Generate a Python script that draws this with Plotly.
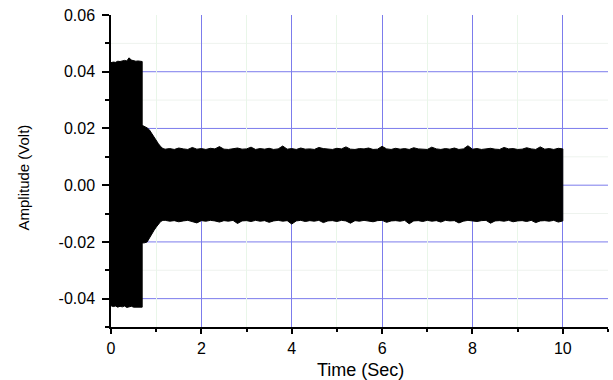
import plotly.graph_objects as go

# Envelope of the recorded signal: upper and lower amplitude bounds (Volt) over time (s)
time_s = [0.0, 0.05, 0.1, 0.15, 0.2, 0.25, 0.3, 0.35, 0.4, 0.45, 0.5, 0.55, 0.6, 0.65,
          0.69, 0.69, 0.75, 0.8, 0.85, 0.9, 0.95, 1.0, 1.05, 1.1, 1.15,
          1.2, 1.3, 1.4, 1.5, 1.6, 1.7, 1.8, 1.9, 2.0, 2.1,
          2.2, 2.3, 2.4, 2.5, 2.6, 2.7, 2.8, 2.9, 3.0, 3.1,
          3.2, 3.3, 3.4, 3.5, 3.6, 3.7, 3.8, 3.9, 4.0, 4.1,
          4.2, 4.3, 4.4, 4.5, 4.6, 4.7, 4.8, 4.9, 5.0, 5.1,
          5.2, 5.3, 5.4, 5.5, 5.6, 5.7, 5.8, 5.9, 6.0, 6.1,
          6.2, 6.3, 6.4, 6.5, 6.6, 6.7, 6.8, 6.9, 7.0, 7.1,
          7.2, 7.3, 7.4, 7.5, 7.6, 7.7, 7.8, 7.9, 8.0, 8.1,
          8.2, 8.3, 8.4, 8.5, 8.6, 8.7, 8.8, 8.9, 9.0, 9.1,
          9.2, 9.3, 9.4, 9.5, 9.6, 9.7, 9.8, 9.9, 10.0]

upper_v = [0.0432, 0.0434, 0.0433, 0.0437, 0.0436, 0.0439, 0.0440, 0.0438, 0.0449, 0.0441,
           0.0439, 0.0437, 0.0438, 0.0436, 0.0436, 0.0211, 0.0207, 0.0202, 0.0195, 0.0182,
           0.0168, 0.0157, 0.0146, 0.0136, 0.0129,
           0.0127, 0.0129, 0.0126, 0.0131, 0.0128, 0.0126, 0.0133, 0.0127, 0.0129, 0.0126,
           0.0130, 0.0128, 0.0136, 0.0127, 0.0126, 0.0129, 0.0131, 0.0127, 0.0128, 0.0134,
           0.0126, 0.0129, 0.0127, 0.0130, 0.0126, 0.0128, 0.0138, 0.0127, 0.0129, 0.0126,
           0.0131, 0.0127, 0.0128, 0.0126, 0.0133, 0.0129, 0.0127, 0.0126, 0.0130, 0.0128,
           0.0135, 0.0127, 0.0126, 0.0129, 0.0128, 0.0131, 0.0126, 0.0127, 0.0137, 0.0128,
           0.0126, 0.0130, 0.0127, 0.0129, 0.0126, 0.0132, 0.0128, 0.0127, 0.0126, 0.0134,
           0.0128, 0.0126, 0.0129, 0.0127, 0.0131, 0.0126, 0.0128, 0.0139, 0.0127, 0.0129,
           0.0126, 0.0128, 0.0130, 0.0127, 0.0126, 0.0133, 0.0128, 0.0129, 0.0126, 0.0127,
           0.0132, 0.0128, 0.0126, 0.0135, 0.0127, 0.0129, 0.0126, 0.0130, 0.0128]

lower_v = [-0.0425, -0.0428, -0.0426, -0.0430, -0.0427, -0.0429, -0.0426, -0.0431, -0.0428, -0.0427,
           -0.0430, -0.0428, -0.0429, -0.0430, -0.0430, -0.0204, -0.0203, -0.0200, -0.0188, -0.0175,
           -0.0160, -0.0148, -0.0137, -0.0128, -0.0124,
           -0.0124, -0.0127, -0.0125, -0.0129, -0.0126, -0.0124, -0.0128, -0.0133, -0.0125, -0.0127,
           -0.0124, -0.0126, -0.0130, -0.0125, -0.0127, -0.0124, -0.0135, -0.0126, -0.0125, -0.0128,
           -0.0124, -0.0127, -0.0125, -0.0131, -0.0126, -0.0124, -0.0127, -0.0125, -0.0137, -0.0126,
           -0.0124, -0.0128, -0.0125, -0.0127, -0.0124, -0.0132, -0.0126, -0.0125, -0.0128, -0.0124,
           -0.0126, -0.0134, -0.0125, -0.0127, -0.0124, -0.0126, -0.0129, -0.0125, -0.0124, -0.0131,
           -0.0126, -0.0125, -0.0127, -0.0124, -0.0136, -0.0126, -0.0125, -0.0128, -0.0124, -0.0127,
           -0.0125, -0.0130, -0.0124, -0.0126, -0.0125, -0.0133, -0.0127, -0.0124, -0.0126, -0.0128,
           -0.0125, -0.0124, -0.0134, -0.0126, -0.0125, -0.0127, -0.0124, -0.0129, -0.0126, -0.0125,
           -0.0128, -0.0124, -0.0132, -0.0126, -0.0125, -0.0127, -0.0124, -0.0130, -0.0126]

assert len(time_s) == len(upper_v) == len(lower_v)

x_ticks = [0, 2, 4, 6, 8, 10]
y_ticks = [-0.04, -0.02, 0.00, 0.02, 0.04, 0.06]
y_tick_text = ["-0.04", "-0.02", "0.00", "0.02", "0.04", "0.06"]
y_major_grid = [-0.04, -0.02, 0.00, 0.02, 0.04]
y_minor_grid = [-0.03, -0.01, 0.01, 0.03, 0.05]

major_grid = "rgb(124,124,236)"
minor_grid_v = "rgb(233,246,233)"
minor_grid_h = "rgb(238,243,238)"

fig = go.Figure()
fig.add_trace(go.Scatter(
    x=time_s + time_s[::-1],
    y=upper_v + lower_v[::-1],
    mode="lines",
    fill="toself",
    fillcolor="black",
    line=dict(color="black", width=1),
    hoverinfo="skip",
    showlegend=False,
))

# horizontal grid lines (none along the top edge)
for yv in y_minor_grid:
    fig.add_shape(type="line", xref="paper", yref="y", x0=0, x1=1, y0=yv, y1=yv,
                  line=dict(color=minor_grid_h, width=1), layer="below")
for yv in y_major_grid:
    fig.add_shape(type="line", xref="paper", yref="y", x0=0, x1=1, y0=yv, y1=yv,
                  line=dict(color=major_grid, width=1), layer="below")

tick_font = dict(family="Liberation Sans, Arial, sans-serif", size=16, color="black")

fig.update_layout(
    width=613, height=380,
    margin=dict(l=111, r=5, t=15, b=53),
    paper_bgcolor="white",
    plot_bgcolor="white",
    font=tick_font,
    xaxis=dict(
        range=[0, 11],
        tickvals=x_ticks,
        ticks="outside", ticklen=5, tickwidth=1.5, tickcolor="black",
        showline=True, linecolor="black", linewidth=1.5,
        showgrid=True, gridcolor=major_grid, gridwidth=1,
        zeroline=False,
        minor=dict(dtick=1, tick0=0, ticks="outside", ticklen=3, tickwidth=1.5, tickcolor="black",
                   showgrid=True, gridcolor=minor_grid_v, gridwidth=1),
        tickfont=tick_font,
        ticklabelstandoff=1,
    ),
    yaxis=dict(
        range=[-0.05, 0.06],
        tickvals=y_ticks, ticktext=y_tick_text,
        ticks="outside", ticklen=7, tickwidth=1.5, tickcolor="black",
        showline=True, linecolor="black", linewidth=1.5,
        showgrid=False,
        zeroline=False,
        minor=dict(dtick=0.01, tick0=0.05, ticks="outside", ticklen=4, tickwidth=1.5,
                   tickcolor="black", showgrid=False),
        tickfont=tick_font,
        ticklabelstandoff=4,
    ),
    annotations=[
        dict(text="Time (Sec)", xref="paper", yref="paper", x=0.502, y=-0.138,
             xanchor="center", yanchor="middle", showarrow=False,
             font=dict(family="Liberation Sans, Arial, sans-serif", size=18, color="black")),
        dict(text="Amplitude (Volt)", xref="paper", yref="paper", x=-0.176, y=0.4776,
             xanchor="center", yanchor="middle", showarrow=False, textangle=-90,
             font=dict(family="Liberation Sans, Arial, sans-serif", size=15, color="black")),
    ],
)

fig.write_html("out.html")
